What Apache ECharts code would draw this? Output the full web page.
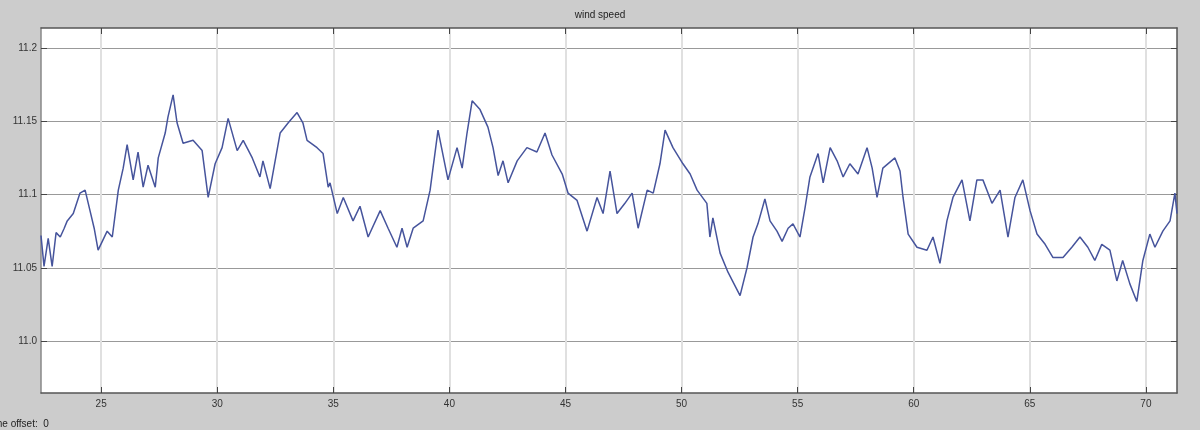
<!DOCTYPE html>
<html>
<head>
<meta charset="utf-8">
<title>wind speed</title>
<script src="https://cdn.jsdelivr.net/npm/echarts@6/dist/echarts.min.js"></script>
<style>
  html, body { margin: 0; padding: 0; background: #cccccc; }
  #chart { width: 1200px; height: 430px; }
</style>
</head>
<body>
<div id="chart"></div>
<script>
// 数据：时间（s）
const timeValues = [
    22.41, 22.54, 22.72, 22.89, 23.06, 23.24, 23.41, 23.54, 23.80, 24.09,
    24.31, 24.52, 24.70, 24.87, 25.26, 25.48, 25.74, 25.95, 26.12, 26.38,
    26.59, 26.81, 27.02, 27.33, 27.46, 27.76, 27.88, 28.10, 28.27, 28.53,
    28.96, 29.35, 29.61, 29.91, 30.21, 30.47, 30.86, 31.12, 31.51, 31.84,
    31.97, 32.28, 32.71, 33.06, 33.44, 33.69, 33.87, 34.30, 34.56, 34.78,
    34.86, 35.17, 35.43, 35.85, 36.15, 36.50, 37.02, 37.36, 37.74, 37.96,
    38.18, 38.44, 38.87, 39.17, 39.51, 39.94, 40.33, 40.55, 40.76, 40.98,
    41.32, 41.66, 41.88, 42.10, 42.31, 42.53, 42.92, 43.34, 43.77, 44.12,
    44.42, 44.86, 45.11, 45.50, 45.93, 46.36, 46.62, 46.92, 47.22, 47.56,
    47.87, 48.13, 48.52, 48.78, 49.07, 49.29, 49.63, 50.06, 50.37, 50.67,
    51.09, 51.22, 51.35, 51.66, 52.00, 52.52, 52.82, 53.08, 53.29, 53.59,
    53.81, 54.11, 54.33, 54.59, 54.80, 55.10, 55.32, 55.53, 55.88, 56.10,
    56.40, 56.70, 56.96, 57.25, 57.60, 57.99, 58.21, 58.42, 58.67, 59.19,
    59.41, 59.54, 59.76, 60.14, 60.57, 60.83, 61.13, 61.43, 61.69, 62.08,
    62.42, 62.72, 62.98, 63.37, 63.72, 64.06, 64.36, 64.70, 65.01, 65.31,
    65.66, 66.00, 66.43, 66.81, 67.16, 67.50, 67.80, 68.10, 68.45, 68.75,
    69.00, 69.31, 69.61, 69.87, 70.17, 70.39, 70.73, 71.04, 71.25, 71.34
];

// 数据：风速
const windSpeed = [
    11.072, 11.051, 11.070, 11.051, 11.074, 11.071, 11.077, 11.082, 11.087, 11.101,
    11.103, 11.089, 11.077, 11.062, 11.075, 11.071, 11.103, 11.118, 11.134, 11.110,
    11.129, 11.105, 11.120, 11.105, 11.125, 11.142, 11.153, 11.168, 11.149, 11.135,
    11.137, 11.130, 11.098, 11.121, 11.132, 11.152, 11.130, 11.137, 11.125, 11.112,
    11.123, 11.104, 11.142, 11.149, 11.156, 11.149, 11.137, 11.132, 11.128, 11.105,
    11.108, 11.087, 11.098, 11.082, 11.092, 11.071, 11.089, 11.077, 11.064, 11.077,
    11.064, 11.077, 11.082, 11.103, 11.144, 11.110, 11.132, 11.118, 11.142, 11.164,
    11.158, 11.146, 11.132, 11.113, 11.123, 11.108, 11.123, 11.132, 11.129, 11.142,
    11.127, 11.114, 11.101, 11.096, 11.075, 11.098, 11.087, 11.116, 11.087, 11.094,
    11.101, 11.077, 11.103, 11.101, 11.121, 11.144, 11.132, 11.121, 11.114, 11.103,
    11.094, 11.071, 11.084, 11.060, 11.047, 11.031, 11.050, 11.071, 11.080, 11.097,
    11.082, 11.075, 11.068, 11.077, 11.080, 11.071, 11.091, 11.112, 11.128, 11.108,
    11.132, 11.123, 11.112, 11.121, 11.114, 11.132, 11.118, 11.098, 11.118, 11.125,
    11.116, 11.098, 11.073, 11.064, 11.062, 11.071, 11.053, 11.082, 11.098, 11.110,
    11.082, 11.110, 11.110, 11.094, 11.103, 11.071, 11.098, 11.110, 11.089, 11.073,
    11.066, 11.057, 11.057, 11.064, 11.071, 11.064, 11.055, 11.066, 11.062, 11.041,
    11.055, 11.039, 11.027, 11.055, 11.073, 11.064, 11.075, 11.082, 11.101, 11.087
];

// 刻度
const xTicks = [25, 30, 35, 40, 45, 50, 55, 60, 65, 70];
const yTicks = [11.0, 11.05, 11.1, 11.15, 11.2];
const yTickLabels = ['11.0', '11.05', '11.1', '11.15', '11.2'];

const chart = echarts.init(document.getElementById('chart'));

const fontFamily = 'Liberation Sans';
const frameColor = '#555';

function xAxisBase(pos, showLabel) {
    return {
        type: 'value',
        position: pos,
        min: 22.41,
        max: 71.34,
        axisLine: { show: true, onZero: false, lineStyle: { color: frameColor, width: 1.5 } },
        axisTick: { show: true, inside: true, length: 6, customValues: xTicks, lineStyle: { color: '#444' } },
        axisLabel: {
            show: showLabel,
            customValues: xTicks,
            color: '#333',
            fontSize: 10,
            fontFamily: fontFamily,
            margin: 6
        },
        splitLine: {
            show: showLabel,
            lineStyle: { color: '#e0e0e0', width: 2 }
        }
    };
}

function yAxisBase(pos, showLabel) {
    return {
        type: 'value',
        position: pos,
        min: 10.9645,
        max: 11.2137,
        axisLine: { show: true, onZero: false, lineStyle: { color: showLabel ? '#888' : frameColor, width: 1.5 } },
        axisTick: { show: true, inside: true, length: 6, customValues: yTicks, lineStyle: { color: '#444' } },
        axisLabel: {
            show: showLabel,
            customValues: yTicks,
            color: '#333',
            fontSize: 10,
            fontFamily: fontFamily,
            margin: 4,
            formatter: (v) => yTickLabels[yTicks.findIndex(t => Math.abs(t - v) < 1e-6)] || ''
        },
        splitLine: {
            show: showLabel,
            lineStyle: { color: '#999999', width: 1 }
        }
    };
}

const option = {
    backgroundColor: '#cccccc',
    animation: false,
    title: {
        text: 'wind speed',
        left: 'center',
        top: 5,
        textStyle: { fontSize: 10, fontWeight: 'normal', color: '#222', fontFamily: fontFamily }
    },
    grid: {
        left: 41,
        right: 23,
        top: 28,
        bottom: 37,
        show: true,
        backgroundColor: '#ffffff',
        borderWidth: 0
    },
    xAxis: [xAxisBase('bottom', true), xAxisBase('top', false)],
    yAxis: [yAxisBase('left', true), yAxisBase('right', false)],
    graphic: [
        {
            type: 'text',
            left: -14,
            top: 419,
            style: { text: 'Time offset:  0', fontSize: 10, fill: '#222', fontFamily: fontFamily }
        }
    ],
    series: [
        {
            name: 'wind speed',
            type: 'line',
            showSymbol: false,
            data: timeValues.map((t, i) => [t, windSpeed[i]]),
            lineStyle: { color: '#46549c', width: 1.5 }
        }
    ]
};

chart.setOption(option);

window.addEventListener('resize', () => {
    chart.resize();
});
</script>
</body>
</html>
